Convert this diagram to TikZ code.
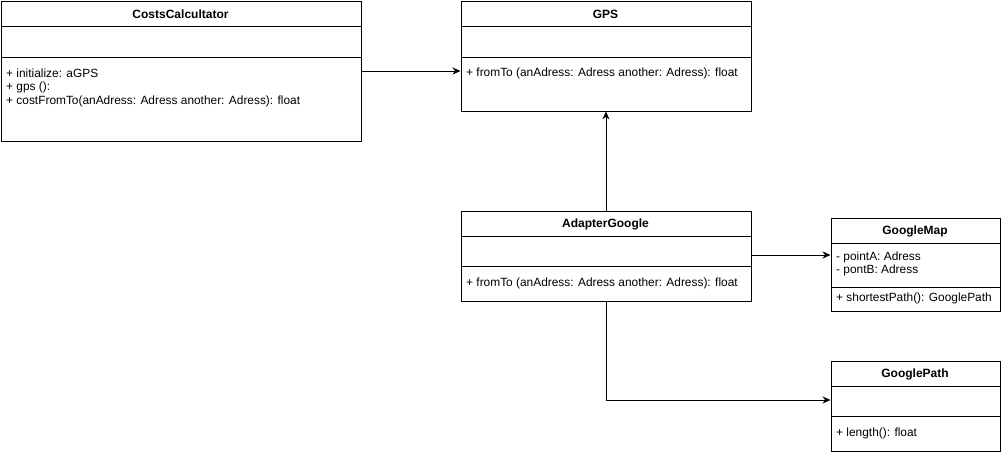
\documentclass[tikz,border=0pt]{standalone}
\usepackage{fontspec}
\setmainfont{Liberation Sans}
\usetikzlibrary{arrows.meta}
\begin{document}
\begin{tikzpicture}[x=1pt,y=-1pt,
  cls/.style={draw=black,line width=0.9pt,fill=white,anchor=north west,inner sep=0pt},
  sep/.style={draw=black,line width=0.9pt},
  ttl/.style={font=\fontsize{12}{14}\selectfont\bfseries,inner sep=0pt},
  mem/.style={font=\fontsize{11.9}{14}\selectfont,anchor=west,inner sep=0pt,align=left},
  conn/.style={draw=black,line width=0.9pt,-{Stealth[length=8pt,width=7pt]}}]
\useasboundingbox (0,0) rectangle (1001,451);
% CostsCalculator
\node[cls,minimum width=360pt,minimum height=140pt] (cc) at (0.5,0.5) {};
\draw[sep] (0.5,26.5) -- (360.5,26.5);
\draw[sep] (0.5,57) -- (360.5,57);
\node[ttl] (cct) at (180.5,14) {CostsCalcultator};
\node[mem] (ccm1) at (6,73) {+ initialize: aGPS};
\node[mem] (ccm2) at (6,87) {+ gps ():};
\node[mem] (ccm3) at (6,101) {+ costFromTo(anAdress: Adress another: Adress): float};
% GPS
\node[cls,minimum width=290pt,minimum height=110pt] (gps) at (460.5,0.5) {};
\draw[sep] (460.5,26.5) -- (750.5,26.5);
\draw[sep] (460.5,57) -- (750.5,57);
\node[ttl] (gpst) at (605.5,14) {GPS};
\node[mem] (gpsm) at (466,73) {+ fromTo (anAdress: Adress another: Adress): float};
% AdapterGoogle
\node[cls,minimum width=290pt,minimum height=90pt] (ag) at (460.5,210.5) {};
\draw[sep] (460.5,236.5) -- (750.5,236.5);
\draw[sep] (460.5,266.5) -- (750.5,266.5);
\node[ttl] (agt) at (605.5,224) {AdapterGoogle};
\node[mem] (agm) at (466,283) {+ fromTo (anAdress: Adress another: Adress): float};
% GoogleMap
\node[cls,minimum width=169pt,minimum height=93pt] (gm) at (830.5,217.5) {};
\draw[sep] (830.5,243.5) -- (999.5,243.5);
\draw[sep] (830.5,287) -- (999.5,287);
\node[ttl] (gmt) at (915,231) {GoogleMap};
\node[mem] (gmm1) at (836,257) {- pointA: Adress};
\node[mem] (gmm2) at (836,270.5) {- pontB: Adress};
\node[mem] (gmm3) at (836,298) {+ shortestPath(): GooglePath};
% GooglePath
\node[cls,minimum width=169pt,minimum height=90pt] (gp) at (830.5,360.5) {};
\draw[sep] (830.5,386.5) -- (999.5,386.5);
\draw[sep] (830.5,416.5) -- (999.5,416.5);
\node[ttl] (gpt) at (915,374) {GooglePath};
\node[mem] (gpm) at (836,433) {+ length(): float};
% connectors
\draw[conn] (cc.east |- 0,71) -- (gps.west |- 0,71);
\draw[conn] (ag.north) -- (gps.south);
\draw[conn] (ag.east |- 0,255) -- (gm.west |- 0,255);
\draw[conn] (ag.south) |- (gp.west |- 0,400);
\end{tikzpicture}
\end{document}
